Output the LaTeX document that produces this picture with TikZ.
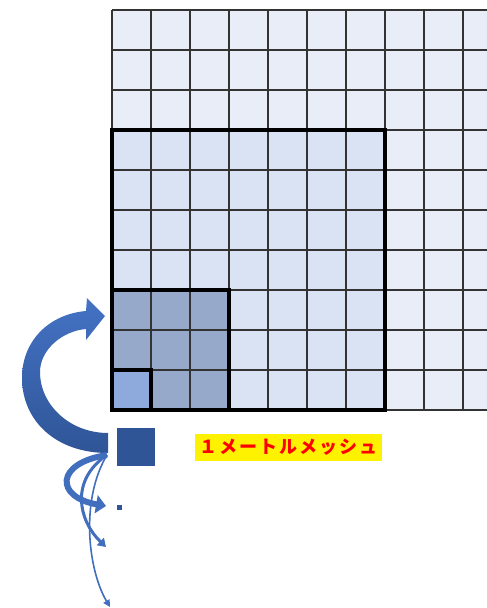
\documentclass[tikz,border=0pt]{standalone}
\usepackage{fontspec}
\newfontfamily\jpfont{Noto Sans CJK JP}
\usepackage{tikz}
\usetikzlibrary{positioning, arrows.meta}

\definecolor{gridout}{HTML}{E9EDF7}
\definecolor{gridmid}{HTML}{DAE3F3}
\definecolor{gridsmall}{HTML}{97A9CA}
\definecolor{gridone}{HTML}{8EA9DB}
\definecolor{meshblue}{HTML}{2F5597}
\definecolor{arrowlight}{HTML}{4472C4}
\newcommand{\gap}{\kern2pt}

\begin{document}
\begin{tikzpicture}[
    x=1pt, y=-1pt,
    gridline/.style={draw=black!80, line width=1.3pt},
    frame/.style={draw=black, line width=3.2pt},
    meshsq/.style={fill=meshblue, inner sep=0pt, minimum size=#1},
    tag/.style={
        fill=yellow, text=red, inner sep=0pt, minimum width=187pt,
        minimum height=27pt, font=\jpfont\bfseries\fontsize{18}{20}\selectfont,
    },
    flow/.style={draw=arrowlight!85!meshblue, line width=#1,
        -{Triangle[length=10pt, width=18pt]}},
]
\useasboundingbox (0,0) rectangle (487,608);

% --- mesh grid ---
\fill[gridout] (112,10) rectangle (487,410);
\fill[gridmid] (112,130) rectangle (385,410);
\fill[gridsmall] (112,290) rectangle (229,410);
\fill[gridone] (112,370) rectangle (151,410);
\foreach \i in {0,...,9}
    \draw[gridline] ({112+39*\i},10) -- ({112+39*\i},410);
\foreach \j in {0,...,10}
    \draw[gridline] (112,{10+40*\j}) -- (487,{10+40*\j});
\draw[frame] (112,130) rectangle (385,410);
\draw[frame] (112,290) rectangle (229,410);
\draw[frame] (112,370) rectangle (151,410);

% --- squares and label ---
\node[meshsq=38pt] (mesh) at (136,447) {};
\node[meshsq=5pt] (dot) at (119.5,507.5) {};
\node[tag] (name) at (288.5,447.5)
    {１\gap メ\gap ー\gap ト\gap ル\gap メ\gap ッ\gap シ\gap ュ};

% --- curved arrows ---
\coordinate (root) at (107,455);
\shade[top color=arrowlight, bottom color=meshblue]
    (108,453) .. controls (55,453) and (22,420) .. (22,378)
    .. controls (22,340) and (50,314) .. (86,311)
    -- (87,298) -- (105,316) -- (86,340) -- (86,329)
    .. controls (62,331) and (40,350) .. (40,372)
    .. controls (40,405) and (70,433) .. (108,433) -- cycle;
\draw[flow=6pt] (root) .. controls (55,463) and (55,497) .. (106,506);
\draw[flow=3pt, -{Triangle[length=8pt, width=10pt]}]
    (root) .. controls (70,480) and (78,520) .. (106,547);
\draw[flow=1.6pt, -{Triangle[length=7pt, width=7pt]}]
    (root) .. controls (80,500) and (88,570) .. (110,607);

\end{tikzpicture}
\end{document}
